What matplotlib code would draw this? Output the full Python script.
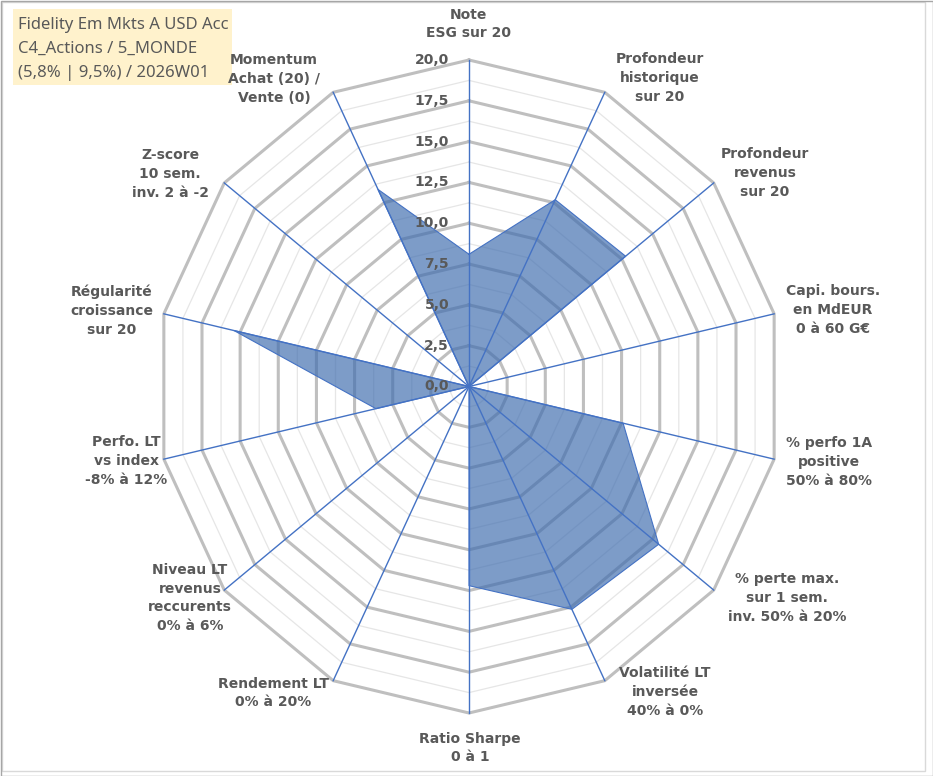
import numpy as np
import matplotlib
matplotlib.use("Agg")
from matplotlib import pyplot as plt
from matplotlib.patches import Rectangle

# axes of the radar, clockwise from the top
categories = [
    "Note\nESG sur 20",
    "Profondeur\nhistorique\nsur 20",
    "Profondeur\nrevenus\nsur 20",
    "Capi. bours.\nen MdEUR\n0 à 60 G€",
    "% perfo 1A\npositive\n50% à 80%",
    "% perte max.\nsur 1 sem.\ninv. 50% à 20%",
    "Volatilité LT\ninversée\n40% à 0%",
    "Ratio Sharpe\n0 à 1",
    "Rendement LT\n0% à 20%",
    "Niveau LT\nrevenus\nreccurents\n0% à 6%",
    "Perfo. LT\nvs index\n-8% à 12%",
    "Régularité\ncroissance\nsur 20",
    "Z-score\n10 sem.\ninv. 2 à -2",
    "Momentum\nAchat (20) /\nVente (0)",
]
scores = [8.1, 12.7, 12.8, 0.0, 10.1, 15.5, 15.15, 12.2, 0.0, 0.0, 6.1, 15.4, 0.0, 13.4]
ticks = [0, 2.5, 5, 7.5, 10, 12.5, 15, 17.5, 20]
tick_labels = ["0,0", "2,5", "5,0", "7,5", "10,0", "12,5", "15,0", "17,5", "20,0"]
title_lines = ["Fidelity Em Mkts A USD Acc", "C4_Actions / 5_MONDE", "(5,8% | 9,5%) / 2026W01"]

# label centres in pixels (layout only)
label_px = [(468, 24), (660, 78), (765, 173), (833, 310), (829, 462), (787, 598),
            (665, 692), (470, 748), (273, 693), (190, 598), (126, 461), (112, 311),
            (170, 174), (274, 79)]

W, H = 933, 776
cx, cy = 469, 386.5          # centre of the radar in pixels
sx, sy = 313 / 20, 326.5 / 20  # px per unit (the Excel chart is a bit squeezed)

fig = plt.figure(figsize=(W / 100, H / 100), dpi=100)
ax = fig.add_axes([0, 0, 1, 1])
ax.set_xlim(-cx / sx, (W - cx) / sx)
ax.set_ylim(-(H - cy) / sy, cy / sy)
ax.axis("off")

n = len(categories)
theta = np.arange(n) * 2 * np.pi / n
ux, uy = np.sin(theta), np.cos(theta)

def ring(r):
    return np.append(r * ux, r * ux[0]), np.append(r * uy, r * uy[0])

grey = "#595959"
# minor rings
for r in np.arange(1.25, 20, 2.5):
    xs, ys = ring(r)
    ax.plot(xs, ys, color="#E6E6E6", lw=0.9, zorder=1)
# major rings
for r in ticks[1:]:
    xs, ys = ring(r)
    ax.plot(xs, ys, color="#BFBFBF", lw=2.2, zorder=2, solid_joinstyle="miter")

# filled series
vals = np.array(scores)
xs, ys = np.append(vals * ux, vals[0] * ux[0]), np.append(vals * uy, vals[0] * uy[0])
ax.fill(xs, ys, color="#3F6DAF", alpha=0.68, lw=0, zorder=3)
ax.plot(xs, ys, color="#4472C4", lw=0.8, zorder=4)

# spokes
for i in range(n):
    ax.plot([0, 20 * ux[i]], [0, 20 * uy[i]], color="#4472C4", lw=1.0, zorder=5)

# radial tick labels
for t, lab in zip(ticks, tick_labels):
    ax.text(-20 / sx, t, lab, ha="right", va="center", fontsize=10,
            fontweight="bold", color=grey, family="DejaVu Sans", zorder=6)

# category labels
for lab, (px, py) in zip(categories, label_px):
    fig.text(px / W, 1 - py / H, lab, ha="center", va="center", multialignment="center",
             fontsize=10, fontweight="bold", color=grey, linespacing=1.45,
             family="DejaVu Sans")

# info box
fig.patches.append(Rectangle((13 / W, 1 - 85 / H), 219 / W, 76 / H, transform=fig.transFigure,
                             facecolor="#FFF2CC", edgecolor="none", zorder=0))
for k, line in enumerate(title_lines):
    fig.text(18 / W, 1 - (25 + 24 * k) / H, line, ha="left", va="center",
             fontsize=12, color=grey, family="Noto Sans")

# frame
fig.patches.append(Rectangle((2 / W, 1 - 771 / H), 923 / W, 769 / H, transform=fig.transFigure,
                             facecolor="none", edgecolor="#D9D9D9", lw=1))
fig.patches.append(Rectangle((0.5 / W, 0.5 / H), (W - 1) / W, (H - 1) / H, transform=fig.transFigure,
                             facecolor="none", edgecolor="#A6A6A6", lw=1))

fig.savefig("out.png", dpi=100)
